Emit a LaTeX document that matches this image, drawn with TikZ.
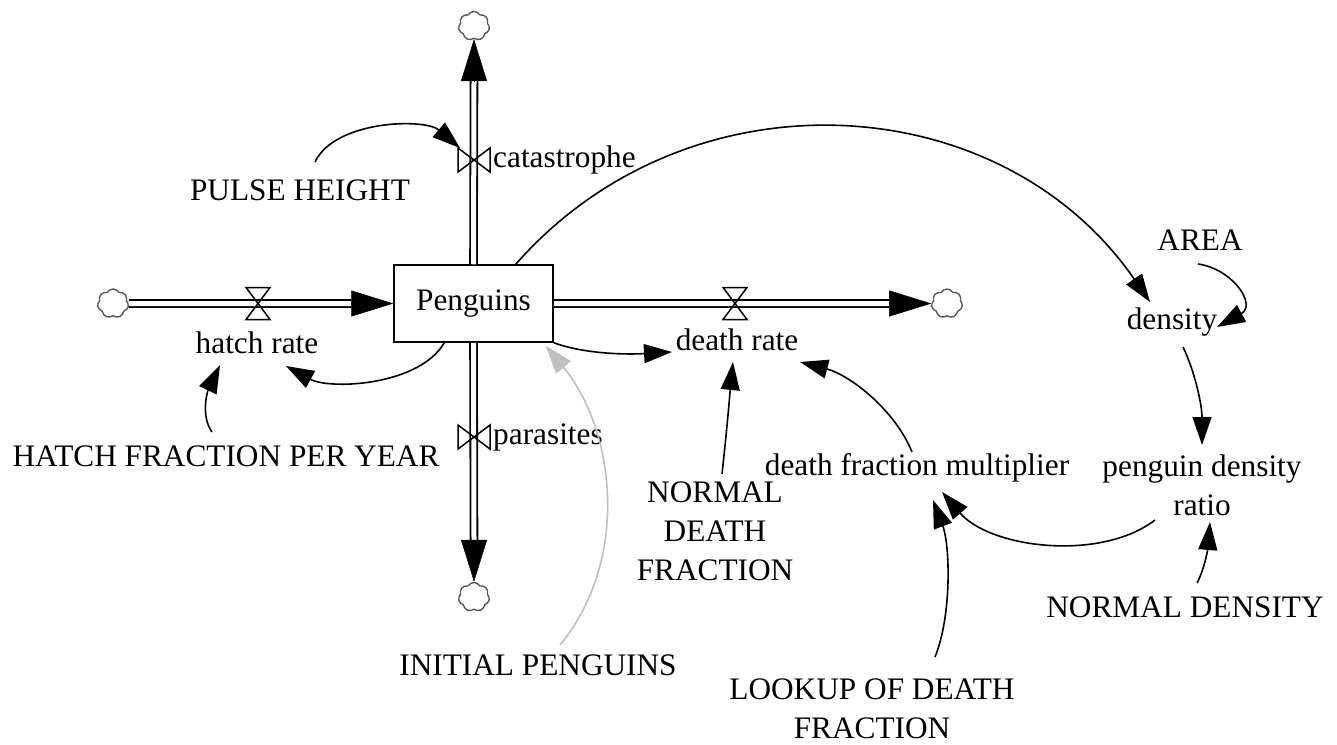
\documentclass[tikz,border=0pt]{standalone}
\usepackage{fontspec}
\setmainfont{Liberation Serif}
\usetikzlibrary{arrows.meta,shapes.symbols}
\tikzset{
  vvalve/.pic={\draw[line width=1.5pt] (-16,-12) -- (-16,12) -- (16,-12) -- (16,12) -- cycle;},
  hvalve/.pic={\draw[line width=1.5pt] (-12,-16) -- (12,-16) -- (-12,16) -- (12,16) -- cycle;},
}
\begin{document}
\begin{tikzpicture}[x=1pt,y=-1pt,
  every node/.style={font=\fontsize{31.3}{39}\selectfont, inner sep=0pt},
  link/.style={line width=1.6pt, -{Triangle[length=28pt,width=19pt]}},
  ilink/.style={link, draw=gray!50},
  pipe/.style={double, double distance=5pt, line width=1.8pt},
  pipetip/.style={line width=0.4pt, -{Triangle[length=42pt,width=26pt]}},
  cloudn/.style={cloud, cloud puffs=7, cloud puff arc=120, aspect=1.05, draw=black!65, line width=1.4pt, minimum width=31pt, minimum height=29pt, inner sep=0pt},
  stock/.style={draw, line width=1.5pt, fill=white, minimum width=159pt, minimum height=77pt}
]
\useasboundingbox (0,0) rectangle (1337,744);
% clouds and stock
\node[cloudn] (cT) at (474,26) {};
\node[cloudn] (cB) at (474,597) {};
\node[cloudn] (cL) at (113,303.5) {};
\node[cloudn] (cR) at (947,303.5) {};
\node[stock] (pen) at (473.5,303.5) {Penguins};
% pipes
\draw[pipe] (pen.north) -- ([shift={(0,42)}]cT.south);
\draw[pipetip] ([shift={(0,42)}]cT.south) -- (cT.south);
\draw[pipe] (pen.south) -- ([shift={(0,-42)}]cB.north);
\draw[pipetip] ([shift={(0,-42)}]cB.north) -- (cB.north);
\draw[pipe] (cL.east) -- ([shift={(-42,0)}]pen.west);
\draw[pipetip] ([shift={(-42,0)}]pen.west) -- (pen.west);
\draw[pipe] (pen.east) -- ([shift={(-42,0)}]cR.west);
\draw[pipetip] ([shift={(-42,0)}]cR.west) -- (cR.west);
% valves
\coordinate (vC) at (474,160);
\coordinate (vP) at (474,437);
\coordinate (vH) at (258,303.5);
\coordinate (vD) at (735,303.5);
\pic at (vC) {vvalve};
\pic at (vP) {vvalve};
\pic at (vH) {hvalve};
\pic at (vD) {hvalve};
% labels
\node[anchor=west] (cata) at (493,160) {catastrophe};
\node[anchor=west] (para) at (493,437) {parasites};
\node (hatch) at (257,343) {hatch rate};
\node (death) at (737,340) {death rate};
\node (pulse) at (300,190) {PULSE HEIGHT};
\node (hfpy) at (226,456) {HATCH FRACTION PER YEAR};
\node (init) at (538,665) {INITIAL PENGUINS};
\node[align=center] (ndf) at (715,531) {NORMAL\\DEATH\\FRACTION};
\node (mult) at (917,468) {death fraction multiplier};
\node[align=center] (lookup) at (872,709) {LOOKUP OF DEATH\\FRACTION};
\node (dens) at (1172,322) {density};
\node (area) at (1200,240) {AREA};
\node[align=center] (ratio) at (1202,485) {penguin density\\ratio};
\node (normd) at (1185,607) {NORMAL DENSITY};
% connectors
\draw[link] ([shift={(15,-28)}]pulse.center) .. controls +(20,-42) and +(-35,-30) .. ([shift={(-14,-12)}]vC);
\draw[link] ([shift={(-38,0)}]pen.north east) .. controls +(173,-197) and +(-149,-216) .. ([shift={(-22,-20)}]dens.center);
\draw[link] ([shift={(-2,24)}]area.center) .. controls +(35,5) and +(40,-22) .. ([shift={(45,5)}]dens.center);
\draw[link] ([shift={(11,25)}]dens.center) .. controls +(12,25) and +(0,-40) .. ([shift={(0,-40)}]ratio.center);
\draw[link] ([shift={(12,-24)}]normd.center) .. controls +(8,-15) and +(-2,25) .. ([shift={(8,37)}]ratio.center);
\draw[link] ([shift={(-47,35)}]ratio.center) .. controls +(-55,42) and +(48,56) .. ([shift={(25,24)}]mult.center);
\draw[link] ([shift={(63,-52)}]lookup.center) .. controls +(17,-42) and +(17,45) .. ([shift={(16,32)}]mult.center);
\draw[link] ([shift={(-5,-16)}]mult.center) .. controls +(-17,-42) and +(50,13) .. ([shift={(63,22)}]death.center);
\draw[link] ([shift={(7,-57)}]ndf.center) .. controls +(5,-45) and +(-3,30) .. ([shift={(-4,22)}]death.center);
\draw[link] (pen.south east) .. controls +(27,10) and +(-52,3) .. ([shift={(-65,12)}]death.center);
\draw[link] ([shift={(51,0)}]pen.south west) .. controls +(-25,43) and +(44,24) .. ([shift={(29,23)}]hatch.center);
\draw[link] ([shift={(-14,-24)}]hfpy.center) .. controls +(-12,-17) and +(-12,25) .. ([shift={(-37,22)}]hatch.center);
\draw[ilink] ([shift={(22,-20)}]init.center) .. controls +(70,-85) and +(70,85) .. ([shift={(-8,3)}]pen.south east);
\end{tikzpicture}
\end{document}
